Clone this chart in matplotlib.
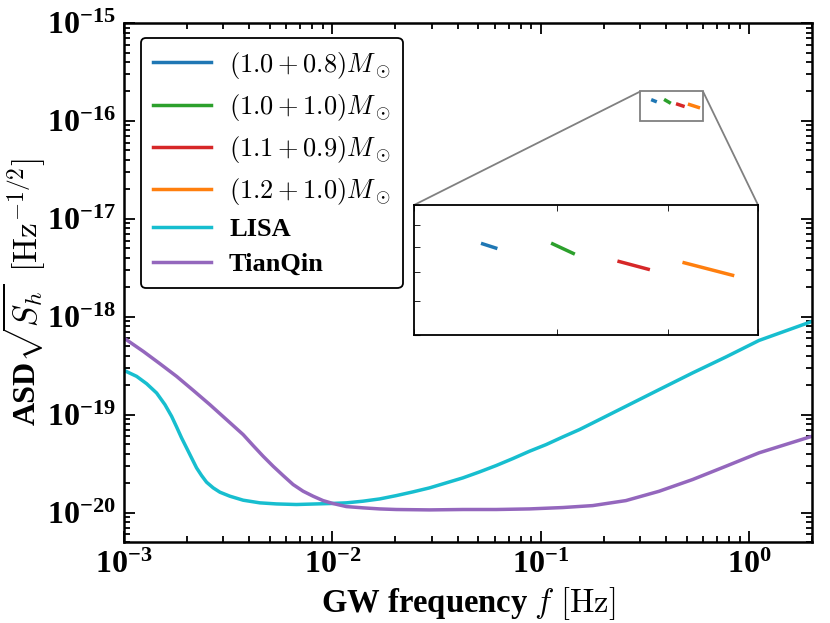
import numpy as np
import matplotlib
matplotlib.use("Agg")
import matplotlib.pyplot as plt
from mpl_toolkits.axes_grid1.inset_locator import mark_inset

plt.rcParams["font.family"] = ["Liberation Serif", "DejaVu Serif"]
plt.rcParams["font.weight"] = "bold"
plt.rcParams["mathtext.fontset"] = "cm"
plt.rcParams["mathtext.rm"] = "Liberation Serif:bold"
plt.rcParams["mathtext.bf"] = "Liberation Serif:bold"
plt.rcParams["mathtext.it"] = "Liberation Serif:bold:italic"

# curves, as log10(f / Hz) and log10(ASD)
lisa_logf = [-3.0, -2.9393, -2.8914, -2.8435, -2.8035, -2.7716, -2.7476,
             -2.7237, -2.6997, -2.6758, -2.6518, -2.6278, -2.6039, -2.572,
             -2.54, -2.4921, -2.4282, -2.3483, -2.2685, -2.1727, -2.0768,
             -2.0129, -1.933, -1.8532, -1.7733, -1.6935, -1.6136, -1.5338,
             -1.4539, -1.3741, -1.2942, -1.2143, -1.1345, -1.0546, -0.9748,
             -0.8949, -0.815, -0.751, -0.592, -0.433, -0.272, -0.112, 0.047,
             0.301]
lisa_logasd = [-18.548, -18.609, -18.684, -18.779, -18.898, -19.017, -19.126,
               -19.238, -19.34, -19.442, -19.544, -19.622, -19.69, -19.748,
               -19.792, -19.833, -19.874, -19.901, -19.912, -19.918, -19.912,
               -19.908, -19.901, -19.884, -19.861, -19.827, -19.789, -19.748,
               -19.697, -19.646, -19.585, -19.52, -19.449, -19.374, -19.306,
               -19.228, -19.153, -19.085, -18.915, -18.745, -18.574, -18.411,
               -18.242, -18.048]

tianqin_logf = [-3.0, -2.9074, -2.8275, -2.7476, -2.6678, -2.5879, -2.508,
                -2.4282, -2.3803, -2.3324, -2.2845, -2.2365, -2.1886, -2.1407,
                -2.0928, -2.0449, -1.997, -1.933, -1.8532, -1.7733, -1.6935,
                -1.5338, -1.3741, -1.2143, -1.0546, -0.8949, -0.751, -0.592,
                -0.433, -0.272, -0.112, 0.047, 0.301]
tianqin_logasd = [-18.218, -18.354, -18.48, -18.609, -18.752, -18.898,
                  -19.051, -19.204, -19.316, -19.425, -19.527, -19.622,
                  -19.714, -19.782, -19.833, -19.878, -19.908, -19.939,
                  -19.952, -19.963, -19.969, -19.973, -19.969, -19.969,
                  -19.963, -19.949, -19.929, -19.878, -19.783, -19.663,
                  -19.527, -19.39, -19.221]

# binary tracks (start/end points)
bns_labels = [r"$(1.0+0.8)M_\odot$", r"$(1.0+1.0)M_\odot$",
              r"$(1.1+0.9)M_\odot$", r"$(1.2+1.0)M_\odot$"]
bns_freq = [[0.3445, 0.3537], [0.3967, 0.4135], [0.4535, 0.4809], [0.517, 0.570]]
bns_asd = [[1.626e-16, 1.59e-16], [1.626e-16, 1.545e-16],
           [1.48e-16, 1.42e-16], [1.47e-16, 1.375e-16]]
bns_colors = ["tab:blue", "tab:green", "tab:red", "tab:orange"]

xticks = [1e-3, 1e-2, 1e-1, 1e0]
xticklabels = [r"$\mathbf{10^{-3}}$", r"$\mathbf{10^{-2}}$",
               r"$\mathbf{10^{-1}}$", r"$\mathbf{10^{0}}$"]
yticks = [1e-20, 1e-19, 1e-18, 1e-17, 1e-16, 1e-15]
yticklabels = [r"$\mathbf{10^{-20}}$", r"$\mathbf{10^{-19}}$",
               r"$\mathbf{10^{-18}}$", r"$\mathbf{10^{-17}}$",
               r"$\mathbf{10^{-16}}$", r"$\mathbf{10^{-15}}$"]

fig = plt.figure(figsize=(8.3, 6.23), dpi=100)
ax = fig.add_axes([0.1494, 0.130, 0.8289, 0.833])

for lab, fx, ay, c in zip(bns_labels, bns_freq, bns_asd, bns_colors):
    ax.plot(fx, ay, color=c, lw=2.5, label=lab)
ax.plot(10 ** np.array(lisa_logf), 10 ** np.array(lisa_logasd),
        color="tab:cyan", lw=2.5, label="LISA")
ax.plot(10 ** np.array(tianqin_logf), 10 ** np.array(tianqin_logasd),
        color="tab:purple", lw=2.5, label="TianQin")

ax.set_xscale("log")
ax.set_yscale("log")
ax.set_xlim(1e-3, 2.0)
ax.set_ylim(5e-21, 1e-15)
ax.set_xticks(xticks, xticklabels, math_fontfamily="custom", fontsize=23)
ax.set_yticks(yticks, yticklabels, math_fontfamily="custom", fontsize=23)
ax.tick_params(which="both", direction="in", top=True, right=True, width=1.3)
ax.tick_params(which="major", length=8)
ax.tick_params(which="minor", length=4)
ax.tick_params(axis="x", pad=6)
ax.tick_params(axis="y", pad=6)
for s in ax.spines.values():
    s.set_linewidth(1.8)

ax.set_xlabel(r"GW frequency $f\ [\mathrm{Hz}]$", fontsize=23.5,
              fontweight="bold", labelpad=4)
# y label in two parts: bold text plus larger math
fig.text(0.033, (623 - 425) / 623, "ASD", rotation=90, fontsize=23,
         fontweight="bold", ha="center", va="bottom")
fig.text(0.029, (623 - 362) / 623, r"$\sqrt{S_h}\ \,[\mathrm{Hz}^{-1/2}]$",
         rotation=90, fontsize=24, ha="center", va="bottom")

leg = ax.legend(loc="upper left", fontsize=19, handlelength=2.2,
                handletextpad=0.7, labelspacing=0.42, borderpad=0.45,
                fancybox=True, bbox_to_anchor=(0.005, 0.997))
leg.get_frame().set_edgecolor("black")
leg.get_frame().set_linewidth(1.3)
leg.get_frame().set_alpha(1)

# zoomed inset
axins = fig.add_axes([0.4988, 0.4623, 0.4145, 0.2086])
for fx, ay, c in zip(bns_freq, bns_asd, bns_colors):
    axins.plot(fx, ay, color=c, lw=2.5)
axins.set_xscale("log")
axins.set_yscale("log")
axins.set_xlim(0.3, 0.6)
axins.set_ylim(1e-16, 2e-16)
axins.tick_params(which="both", direction="in", top=True, right=False,
                  labelbottom=False, labelleft=False, length=4)
axins.xaxis.set_major_formatter(plt.NullFormatter())
axins.xaxis.set_minor_formatter(plt.NullFormatter())
axins.yaxis.set_major_formatter(plt.NullFormatter())
axins.yaxis.set_minor_formatter(plt.NullFormatter())
for s in axins.spines.values():
    s.set_linewidth(1.3)

mark_inset(ax, axins, loc1=2, loc2=1, fc="none", ec="0.5", lw=1.3)

fig.savefig("out.png", dpi=100)
